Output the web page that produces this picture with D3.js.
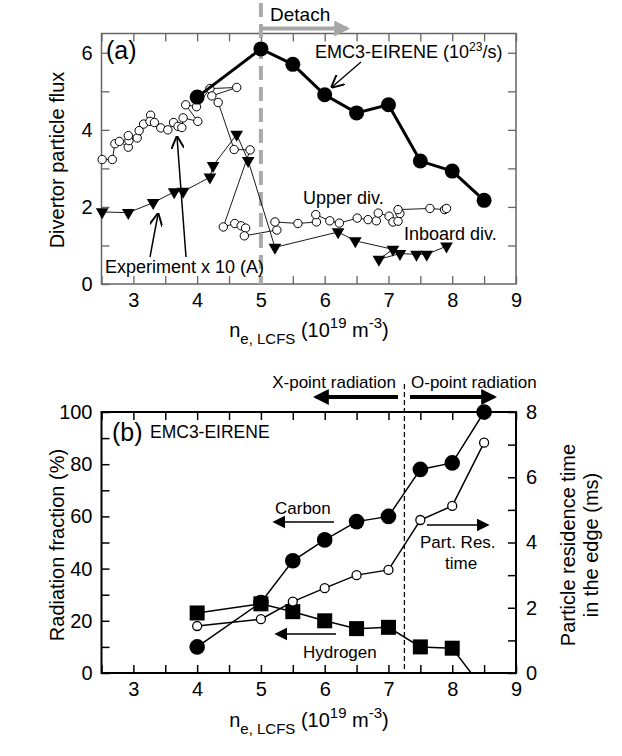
<!DOCTYPE html>
<html><head><meta charset="utf-8">
<script src="https://cdn.jsdelivr.net/npm/d3@7"></script>
<style>
body{margin:0;background:#fff}
svg{display:block}
text{font-family:"Liberation Sans",Arial,sans-serif;fill:#000}
</style>
</head><body>
<svg id="c" width="622" height="756"></svg>
<script>
// ---------- DATA ----------
// Panel (a)
const emcX = [4, 5, 5.5, 6, 6.5, 7, 7.5, 8, 8.5];
const emcY = [4.85, 6.1, 5.7, 4.91, 4.44, 4.65, 3.19, 2.93, 2.17];

const expUpperX = [2.51, 2.67, 2.71, 2.78, 2.92, 2.93, 2.92, 3.06, 3.09, 3.16, 3.27, 3.26, 3.33, 3.43, 3.54, 3.63, 3.70, 3.76, 3.78, 4.01, 3.82, 3.99, 4.20, 4.62, 4.23, 4.33, 4.58, 4.83, 4.41, 4.59, 4.69, 4.76, 4.74, 5.25, 5.22, 5.58, 5.87, 5.86, 6.08, 6.23, 6.51, 6.68, 6.81, 6.84, 7.01, 7.07, 7.15, 7.18, 7.15, 7.65, 7.88, 7.91];
const expUpperY = [3.23, 3.23, 3.64, 3.70, 3.55, 3.72, 3.85, 3.79, 3.98, 4.15, 4.38, 4.22, 4.19, 4.05, 4.00, 4.19, 4.09, 4.06, 4.31, 4.22, 4.65, 4.60, 5.07, 5.10, 4.88, 4.71, 3.49, 3.48, 1.48, 1.57, 1.51, 1.45, 1.25, 1.40, 1.61, 1.57, 1.61, 1.80, 1.64, 1.58, 1.71, 1.67, 1.64, 1.84, 1.76, 1.61, 1.63, 1.83, 1.93, 1.96, 1.93, 1.96];

const expInboardX = [2.51, 2.92, 3.31, 3.64, 3.78, 4.20, 4.25, 4.62, 4.80, 5.22, 6.21, 6.48, 7.07, 6.85, 7.18, 7.44, 7.60, 7.91];
const expInboardY = [1.87, 1.85, 2.11, 2.39, 2.40, 2.77, 3.07, 3.88, 3.20, 0.95, 1.35, 1.12, 0.90, 0.64, 0.79, 0.77, 0.77, 0.98];

const xTicks = [2.5, 3, 3.5, 4, 4.5, 5, 5.5, 6, 6.5, 7, 7.5, 8, 8.5, 9];
const xTickLabels = [3, 4, 5, 6, 7, 8, 9];
const aYTicks = [0, 1, 2, 3, 4, 5, 6];
const aYTickLabels = [0, 2, 4, 6];

// Panel (b)
const bX = [4, 5, 5.5, 6, 6.5, 7, 7.5, 8, 8.5];
const carbon = [10, 27, 43, 51, 58, 60, 78, 80.5, 100];
const hydrogen = [23, 26.5, 23.5, 20, 17, 17.5, 10, 9.5, -6.5];
const resTime = [1.44, 1.65, 2.19, 2.6, 3.0, 3.16, 4.69, 5.12, 7.06];
const bYTicks = [0, 10, 20, 30, 40, 50, 60, 70, 80, 90, 100];
const bYTickLabels = [0, 20, 40, 60, 80, 100];
const bY2Ticks = [0, 1, 2, 3, 4, 5, 6, 7, 8];
const bY2TickLabels = [0, 2, 4, 6, 8];

// ---------- LAYOUT ----------
const svg = d3.select("#c");
const L = 101.5, R = 516;
const x = d3.scaleLinear().domain([2.5, 9]).range([L, R]);
const aTop = 33.5, aBot = 284;
const ya = d3.scaleLinear().domain([0, 6.5]).range([aBot, aTop]);
const bTop = 412, bBot = 673;
const yb = d3.scaleLinear().domain([0, 100]).range([bBot, bTop]);
const yb2 = d3.scaleLinear().domain([0, 8]).range([bBot, bTop]);

const TS = 8;
function fmtX(d){ return xTickLabels.includes(d) ? String(d) : ""; }

function styleAxis(g, color, w, fs){
  g.select(".domain").remove();
  g.selectAll(".tick line").attr("stroke", color).attr("stroke-width", w);
  g.selectAll(".tick text").attr("font-size", fs).attr("fill", "#000")
   .attr("font-family", '"Liberation Sans",Arial,sans-serif');
}

function frame(top, bot, color, w){
  svg.append("rect").attr("x", L).attr("y", top).attr("width", R - L).attr("height", bot - top)
    .attr("fill", "none").attr("stroke", color).attr("stroke-width", w);
}

// defs
const defs = svg.append("defs");
function marker(id, color, size){
  defs.append("marker").attr("id", id).attr("viewBox", "0 0 10 10").attr("refX", 8).attr("refY", 5)
    .attr("markerWidth", size).attr("markerHeight", size).attr("orient", "auto-start-reverse")
    .attr("markerUnits", "userSpaceOnUse")
    .append("path").attr("d", "M0,0 L10,5 L0,10 z").attr("fill", color);
}
marker("ahBlack", "#000", 13);
marker("ahGray", "#a6a6a6", 16);
marker("ahBig", "#000", 16);
defs.append("marker").attr("id", "ahOpen").attr("viewBox", "0 0 10 10").attr("refX", 9).attr("refY", 5)
  .attr("markerWidth", 13).attr("markerHeight", 13).attr("orient", "auto")
  .attr("markerUnits", "userSpaceOnUse")
  .append("path").attr("d", "M0,0 L10,5 L0,10").attr("fill", "none").attr("stroke", "#000").attr("stroke-width", 1.5);
defs.append("clipPath").attr("id", "clipB").append("rect")
  .attr("x", L).attr("y", bTop).attr("width", R - L).attr("height", bBot - bTop);

// ================= PANEL (a) =================
const aColor = "#666";
svg.append("g").attr("transform", `translate(0,${aBot})`)
  .call(d3.axisBottom(x).tickValues(xTicks).tickSize(-TS).tickPadding(9).tickFormat(fmtX))
  .call(g => styleAxis(g, aColor, 1.3, 20));
svg.append("g").attr("transform", `translate(0,${aTop})`)
  .call(d3.axisTop(x).tickValues(xTicks).tickSize(-TS).tickFormat(""))
  .call(g => styleAxis(g, aColor, 1.3, 20));
svg.append("g").attr("transform", `translate(${L},0)`)
  .call(d3.axisLeft(ya).tickValues(aYTicks).tickSize(-TS).tickPadding(9)
    .tickFormat(d => aYTickLabels.includes(d) ? String(d) : ""))
  .call(g => styleAxis(g, aColor, 1.3, 20));
svg.append("g").attr("transform", `translate(${R},0)`)
  .call(d3.axisRight(ya).tickValues(aYTicks.filter(d => d > 0)).tickSize(-TS).tickFormat(""))
  .call(g => styleAxis(g, aColor, 1.3, 20));
frame(aTop, aBot, aColor, 1.5);

// dashed detach line
svg.append("line").attr("x1", x(5)).attr("x2", x(5)).attr("y1", 3).attr("y2", aBot)
  .attr("stroke", "#aaaaaa").attr("stroke-width", 4).attr("stroke-dasharray", "14,7");

// Detach text + gray arrow
svg.append("text").attr("x", 270).attr("y", 21).attr("font-size", 19).text("Detach");
svg.append("line").attr("x1", x(5)).attr("x2", 347).attr("y1", 28.5).attr("y2", 28.5)
  .attr("stroke", "#a6a6a6").attr("stroke-width", 4).attr("marker-end", "url(#ahGray)");

// experiment series
const lineA = d3.line().x(d => x(d[0])).y(d => ya(d[1]));
const upPts = expUpperX.map((v, i) => [v, expUpperY[i]]);
const inPts = expInboardX.map((v, i) => [v, expInboardY[i]]);
svg.append("path").attr("d", lineA(upPts)).attr("fill", "none").attr("stroke", "#000").attr("stroke-width", 0.9);
svg.append("path").attr("d", lineA(inPts)).attr("fill", "none").attr("stroke", "#000").attr("stroke-width", 0.9);
svg.append("g").selectAll("circle").data(upPts).join("circle")
  .attr("cx", d => x(d[0])).attr("cy", d => ya(d[1])).attr("r", 4.2)
  .attr("fill", "#fff").attr("stroke", "#000").attr("stroke-width", 1);
const tri = d3.symbol().type(d3.symbolTriangle).size(70);
svg.append("g").selectAll("path").data(inPts).join("path")
  .attr("d", tri).attr("transform", d => `translate(${x(d[0])},${ya(d[1])}) rotate(180)`)
  .attr("fill", "#000");

// EMC3-EIRENE
const emcPts = emcX.map((v, i) => [v, emcY[i]]);
svg.append("path").attr("d", lineA(emcPts)).attr("fill", "none").attr("stroke", "#000").attr("stroke-width", 3);
svg.append("g").selectAll("circle").data(emcPts).join("circle")
  .attr("cx", d => x(d[0])).attr("cy", d => ya(d[1])).attr("r", 7.5).attr("fill", "#000");

// labels panel a
svg.append("text").attr("x", 106).attr("y", 59).attr("font-size", 25).text("(a)");
const emcT = svg.append("text").attr("x", 315).attr("y", 58).attr("font-size", 18);
emcT.append("tspan").text("EMC3-EIRENE (10");
emcT.append("tspan").attr("font-size", 12).attr("dy", -7).text("23");
emcT.append("tspan").attr("dy", 7).text("/s)");
svg.append("line").attr("x1", 361).attr("y1", 62).attr("x2", 332).attr("y2", 87)
  .attr("stroke", "#000").attr("stroke-width", 1.3).attr("marker-end", "url(#ahOpen)");
svg.append("text").attr("x", 303).attr("y", 204).attr("font-size", 18).text("Upper div.");
svg.append("text").attr("x", 404).attr("y", 240).attr("font-size", 18).text("Inboard div.");
svg.append("text").attr("x", 105).attr("y", 273).attr("font-size", 18).text("Experiment x 10 (A)");
svg.append("line").attr("x1", 186).attr("y1", 257).attr("x2", 177).attr("y2", 137)
  .attr("stroke", "#000").attr("stroke-width", 1.5).attr("marker-end", "url(#ahOpen)");
svg.append("line").attr("x1", 150).attr("y1", 257).attr("x2", 158).attr("y2", 214)
  .attr("stroke", "#000").attr("stroke-width", 1.5).attr("marker-end", "url(#ahOpen)");

svg.append("text").attr("transform", "translate(64,160) rotate(-90)").attr("text-anchor", "middle")
  .attr("font-size", 20).text("Divertor particle flux");
function xTitle(yBase){
  const t = svg.append("text").attr("x", 309).attr("y", yBase).attr("text-anchor", "middle").attr("font-size", 20);
  t.append("tspan").text("n");
  t.append("tspan").attr("font-size", 15).attr("dy", 7).text("e, LCFS");
  t.append("tspan").attr("dy", -7).text(" (10");
  t.append("tspan").attr("font-size", 15).attr("dy", -9).text("19");
  t.append("tspan").attr("dy", 9).text(" m");
  t.append("tspan").attr("font-size", 15).attr("dy", -9).text("-3");
  t.append("tspan").attr("dy", 9).text(")");
}
xTitle(337);

// ================= PANEL (b) =================
const bColor = "#000";
svg.append("g").attr("transform", `translate(0,${bBot})`)
  .call(d3.axisBottom(x).tickValues(xTicks).tickSize(-TS).tickPadding(9).tickFormat(fmtX))
  .call(g => styleAxis(g, bColor, 1.5, 20));
svg.append("g").attr("transform", `translate(0,${bTop})`)
  .call(d3.axisTop(x).tickValues(xTicks).tickSize(-TS).tickFormat(""))
  .call(g => styleAxis(g, bColor, 1.5, 20));
svg.append("g").attr("transform", `translate(${L},0)`)
  .call(d3.axisLeft(yb).tickValues(bYTicks).tickSize(-TS).tickPadding(9)
    .tickFormat(d => bYTickLabels.includes(d) ? String(d) : ""))
  .call(g => styleAxis(g, bColor, 1.5, 20));
svg.append("g").attr("transform", `translate(${R},0)`)
  .call(d3.axisRight(yb2).tickValues(bY2Ticks).tickSize(-TS).tickPadding(10)
    .tickFormat(d => bY2TickLabels.includes(d) ? String(d) : ""))
  .call(g => styleAxis(g, bColor, 1.5, 20));
frame(bTop, bBot, bColor, 2);

svg.append("line").attr("x1", x(7.25)).attr("x2", x(7.25)).attr("y1", 384).attr("y2", bBot)
  .attr("stroke", "#000").attr("stroke-width", 1.3).attr("stroke-dasharray", "5,3");

svg.append("text").attr("x", 396).attr("y", 388).attr("text-anchor", "end").attr("font-size", 17).text("X-point radiation");
svg.append("text").attr("x", 411).attr("y", 388).attr("font-size", 17).text("O-point radiation");
svg.append("line").attr("x1", 398).attr("x2", 316).attr("y1", 397).attr("y2", 397)
  .attr("stroke", "#000").attr("stroke-width", 4).attr("marker-end", "url(#ahBig)");
svg.append("line").attr("x1", 410).attr("x2", 494).attr("y1", 397).attr("y2", 397)
  .attr("stroke", "#000").attr("stroke-width", 4).attr("marker-end", "url(#ahBig)");

const lineB = d3.line().x(d => x(d[0])).y(d => yb(d[1]));
const lineB2 = d3.line().x(d => x(d[0])).y(d => yb2(d[1]));
const cPts = bX.map((v, i) => [v, carbon[i]]);
const hPts = bX.map((v, i) => [v, hydrogen[i]]);
const rPts = bX.map((v, i) => [v, resTime[i]]);

const gb = svg.append("g").attr("clip-path", "url(#clipB)");
gb.append("path").attr("d", lineB(hPts)).attr("fill", "none").attr("stroke", "#000").attr("stroke-width", 1.5);
gb.append("path").attr("d", lineB2(rPts)).attr("fill", "none").attr("stroke", "#000").attr("stroke-width", 1.5);
gb.append("path").attr("d", lineB(cPts)).attr("fill", "none").attr("stroke", "#000").attr("stroke-width", 1.5);
gb.append("g").selectAll("rect").data(hPts.filter(d => d[1] >= 0)).join("rect")
  .attr("x", d => x(d[0]) - 7.5).attr("y", d => yb(d[1]) - 7.5).attr("width", 15).attr("height", 15).attr("fill", "#000");
svg.append("g").selectAll("circle").data(rPts).join("circle")
  .attr("cx", d => x(d[0])).attr("cy", d => yb2(d[1])).attr("r", 4.5)
  .attr("fill", "#fff").attr("stroke", "#000").attr("stroke-width", 1.3);
svg.append("g").selectAll("circle").data(cPts).join("circle")
  .attr("cx", d => x(d[0])).attr("cy", d => yb(d[1])).attr("r", 7.8).attr("fill", "#000");

svg.append("text").attr("x", 112).attr("y", 441).attr("font-size", 25).text("(b)");
svg.append("text").attr("x", 150).attr("y", 438).attr("font-size", 17.5).text("EMC3-EIRENE");
svg.append("text").attr("x", 275).attr("y", 514).attr("font-size", 17).text("Carbon");
svg.append("line").attr("x1", 334).attr("x2", 275).attr("y1", 522).attr("y2", 522)
  .attr("stroke", "#000").attr("stroke-width", 1.3).attr("marker-end", "url(#ahBlack)");
svg.append("text").attr("x", 420).attr("y", 548).attr("font-size", 17).text("Part. Res.");
svg.append("text").attr("x", 445).attr("y", 569).attr("font-size", 17).text("time");
svg.append("line").attr("x1", 427).attr("x2", 487).attr("y1", 525).attr("y2", 525)
  .attr("stroke", "#000").attr("stroke-width", 1.3).attr("marker-end", "url(#ahBlack)");
svg.append("text").attr("x", 303).attr("y", 658).attr("font-size", 17).text("Hydrogen");
svg.append("line").attr("x1", 336).attr("x2", 277).attr("y1", 634).attr("y2", 634)
  .attr("stroke", "#000").attr("stroke-width", 1.3).attr("marker-end", "url(#ahBlack)");

svg.append("text").attr("transform", "translate(64,545) rotate(-90)").attr("text-anchor", "middle")
  .attr("font-size", 20).text("Radiation fraction (%)");
svg.append("text").attr("transform", "translate(575,545) rotate(-90)").attr("text-anchor", "middle")
  .attr("font-size", 20).text("Particle residence time");
svg.append("text").attr("transform", "translate(598,545) rotate(-90)").attr("text-anchor", "middle")
  .attr("font-size", 20).text("in the edge (ms)");
xTitle(727);
</script>
</body></html>
